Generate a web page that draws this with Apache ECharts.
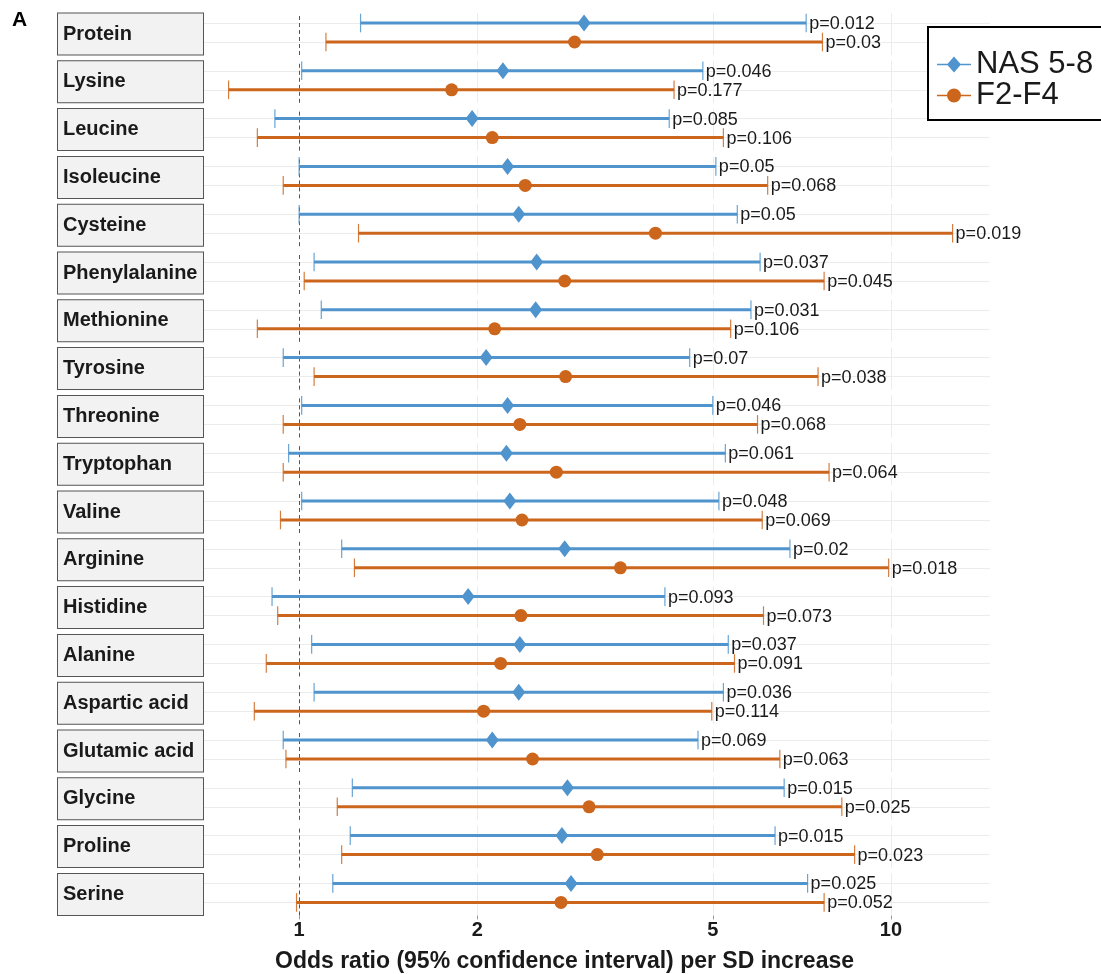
<!DOCTYPE html>
<html>
<head>
<meta charset="utf-8">
<script src="https://cdn.jsdelivr.net/npm/echarts@6/dist/echarts.min.js"></script>
<style>html,body{margin:0;padding:0;background:#fff;}#chart{width:1101px;height:974px;}</style>
</head>
<body>
<div id="chart"></div>
<script>
// ---- data ----
const categories = ['Protein','Lysine','Leucine','Isoleucine','Cysteine','Phenylalanine','Methionine','Tyrosine','Threonine','Tryptophan','Valine','Arginine','Histidine','Alanine','Aspartic acid','Glutamic acid','Glycine','Proline','Serine'];
const groups = ['NAS 5-8','F2-F4'];
const nasLow  = [1.27,1.01,0.91,1.00,1.00,1.06,1.09,0.94,1.01,0.96,1.01,1.18,0.90,1.05,1.06,0.94,1.23,1.22,1.14];
const nasEst  = [3.03,2.21,1.96,2.25,2.35,2.52,2.51,2.07,2.25,2.24,2.27,2.81,1.93,2.36,2.35,2.12,2.84,2.78,2.88];
const nasHigh = [7.19,4.81,4.22,5.06,5.50,6.01,5.80,4.57,5.00,5.25,5.12,6.75,4.15,5.31,5.21,4.72,6.60,6.37,7.23];
const nasP    = ['0.012','0.046','0.085','0.05','0.05','0.037','0.031','0.07','0.046','0.061','0.048','0.02','0.093','0.037','0.036','0.069','0.015','0.015','0.025'];
const f2Low   = [1.11,0.76,0.85,0.94,1.26,1.02,0.85,1.06,0.94,0.94,0.93,1.24,0.92,0.88,0.84,0.95,1.16,1.18,0.99];
const f2Est   = [2.92,1.81,2.12,2.41,4.00,2.81,2.14,2.82,2.36,2.72,2.38,3.49,2.37,2.19,2.05,2.48,3.09,3.19,2.77];
const f2High  = [7.66,4.30,5.21,6.19,12.71,7.71,5.36,7.53,5.95,7.86,6.06,9.91,6.09,5.44,4.98,6.49,8.26,8.68,7.71];
const f2P     = ['0.03','0.177','0.106','0.068','0.019','0.045','0.106','0.038','0.068','0.064','0.069','0.018','0.073','0.091','0.114','0.063','0.025','0.023','0.052'];
const xTicks = [1, 2, 5, 10];
const refLine = 1;
const gridLines = [2, 5, 10];

// ---- style / layout ----
const FONT = 'Liberation Sans, Arial, sans-serif';
const BLUE = '#4F94CD', ORANGE = '#CD661D';
const X_MIN = 0.688, X_MAX = 14.7;
const PLOT_LEFT = 203, PLOT_W = 787, TOP0 = 13, PITCH = 47.8, PANEL_H = 42, ROW_H = 38, ROW_OFF = 0.5;

const diamondIcon = 'path://M0,7.2L34,7.2L34,8.8L0,8.8Z M17,0L24,8L17,16L10,8Z';
const circleIcon = 'path://M0,6.2L34,6.2L34,7.8L0,7.8Z M10,7A7,7 0 1 1 24,7A7,7 0 1 1 10,7Z';

function makeBar(color, pText) {
  return function (params, api) {
    const y = api.value(2);
    const a = api.coord([api.value(0), y]);
    const b = api.coord([api.value(1), y]);
    const half = 9.3;
    return {
      type: 'group',
      children: [
        {type: 'line', shape: {x1: a[0], y1: a[1], x2: b[0], y2: b[1]}, style: {stroke: color, lineWidth: 3}},
        {type: 'line', shape: {x1: a[0], y1: a[1] - half, x2: a[0], y2: a[1] + half}, style: {stroke: color, lineWidth: 1.2, opacity: 0.85}},
        {type: 'line', shape: {x1: b[0], y1: b[1] - half, x2: b[0], y2: b[1] + half}, style: {stroke: color, lineWidth: 1.2, opacity: 0.85}},
        {type: 'text', x: b[0] + 3, y: b[1] + 1, style: {text: 'p=' + pText, fill: '#1a1a1a', fontSize: 18, fontFamily: FONT, align: 'left', verticalAlign: 'middle'}}
      ]
    };
  };
}

const grids = [], xAxes = [], yAxes = [], series = [];
categories.forEach((name, i) => {
  const last = i === categories.length - 1;
  const top = TOP0 + i * PITCH;
  // panel grid (strip label, vertical grid lines, reference line, x ticks)
  const gA = grids.length;
  grids.push({left: PLOT_LEFT, width: PLOT_W, top: top, height: PANEL_H});
  // row grid (two series rows)
  const gB = grids.length;
  grids.push({left: PLOT_LEFT, width: PLOT_W, top: top + ROW_OFF, height: ROW_H});

  const xA = xAxes.length;
  xAxes.push({
    type: 'log', logBase: 10, gridIndex: gA, min: X_MIN, max: X_MAX,
    axisLine: {show: false},
    splitLine: {show: false}, minorTick: {show: false}, minorSplitLine: {show: false},
    axisTick: {show: last, customValues: xTicks, length: 4, lineStyle: {color: '#999'}},
    axisLabel: {show: last, customValues: xTicks, margin: 5, fontSize: 20, fontWeight: 'bold', color: '#1a1a1a', fontFamily: FONT,
      formatter: v => String(Math.round(v))}
  });
  const xB = xAxes.length;
  xAxes.push({
    type: 'log', logBase: 10, gridIndex: gB, min: X_MIN, max: X_MAX, show: false,
    splitLine: {show: false}, minorTick: {show: false}, minorSplitLine: {show: false}
  });

  const yA = yAxes.length;
  yAxes.push({
    type: 'category', gridIndex: gA, data: [name], position: 'left',
    axisLine: {show: false}, axisTick: {show: false}, splitLine: {show: false},
    axisLabel: {
      margin: 0, formatter: v => '{a|' + v + '}',
      backgroundColor: '#f2f2f2', borderColor: '#555', borderWidth: 1, padding: [0, 0, 0, 5],
      rich: {a: {width: 140, height: PANEL_H - 1, lineHeight: PANEL_H - 1, align: 'left', fontSize: 20, fontWeight: 'bold', color: '#1a1a1a', fontFamily: FONT}}
    }
  });
  const yB = yAxes.length;
  yAxes.push({
    type: 'category', gridIndex: gB, data: groups, inverse: true, position: 'right',
    axisLine: {show: false}, axisLabel: {show: false}, splitLine: {show: false},
    axisTick: {show: true, inside: true, alignWithLabel: true, length: PLOT_W, lineStyle: {color: '#ececec', width: 1}}
  });

  series.push({
    type: 'line', xAxisIndex: xA, yAxisIndex: yA, data: [[refLine, name]], symbol: 'none', silent: true, z: 1,
    lineStyle: {opacity: 0}, legendHoverLink: false,
    markLine: {
      z: 1, symbol: ['none', 'none'], silent: true, label: {show: false}, animation: false,
      data: gridLines.map(v => ({xAxis: v, lineStyle: {type: 'solid', color: '#ececec', width: 1}}))
        .concat([{xAxis: refLine, lineStyle: {type: [4, 3], color: '#555', width: 1}}])
    }
  });
  series.push({
    type: 'custom', name: groups[0], xAxisIndex: xB, yAxisIndex: yB, z: 2,
    itemStyle: {color: BLUE}, encode: {x: [0, 1], y: 2},
    data: [[nasLow[i], nasHigh[i], groups[0]]], renderItem: makeBar(BLUE, nasP[i])
  });
  series.push({
    type: 'custom', name: groups[1], xAxisIndex: xB, yAxisIndex: yB, z: 2,
    itemStyle: {color: ORANGE}, encode: {x: [0, 1], y: 2},
    data: [[f2Low[i], f2High[i], groups[1]]], renderItem: makeBar(ORANGE, f2P[i])
  });
  series.push({
    type: 'scatter', name: groups[0], xAxisIndex: xB, yAxisIndex: yB, z: 3,
    symbol: 'diamond', symbolSize: [13, 17], itemStyle: {color: BLUE, opacity: 1},
    data: [[nasEst[i], groups[0]]]
  });
  series.push({
    type: 'scatter', name: groups[1], xAxisIndex: xB, yAxisIndex: yB, z: 3,
    symbol: 'circle', symbolSize: 13, itemStyle: {color: ORANGE, opacity: 1},
    data: [[f2Est[i], groups[1]]]
  });
});

const chart = echarts.init(document.getElementById('chart'), null, {renderer: 'canvas'});
chart.setOption({
  animation: false,
  backgroundColor: '#fff',
  title: [
    {text: 'A', left: 12, top: 10, padding: 0, textStyle: {fontSize: 21, fontWeight: 'bold', color: '#000', fontFamily: FONT}},
    {text: 'Odds ratio (95% confidence interval) per SD increase', left: 275, top: 950, padding: 0,
      textStyle: {fontSize: 23, fontWeight: 'bold', color: '#1a1a1a', fontFamily: FONT}}
  ],
  legend: {
    orient: 'vertical', left: 928, top: 27, padding: [22, 10, 9, 9], itemGap: 0,
    itemWidth: 34, itemHeight: 16, borderColor: '#000', borderWidth: 2, backgroundColor: '#fff',
    textStyle: {fontSize: 31, color: '#1a1a1a', fontFamily: FONT},
    data: [{name: groups[0], icon: diamondIcon, itemStyle: {color: BLUE}}, {name: groups[1], icon: circleIcon, itemStyle: {color: ORANGE}}]
  },
  grid: grids, xAxis: xAxes, yAxis: yAxes, series: series
});
</script>
</body>
</html>
